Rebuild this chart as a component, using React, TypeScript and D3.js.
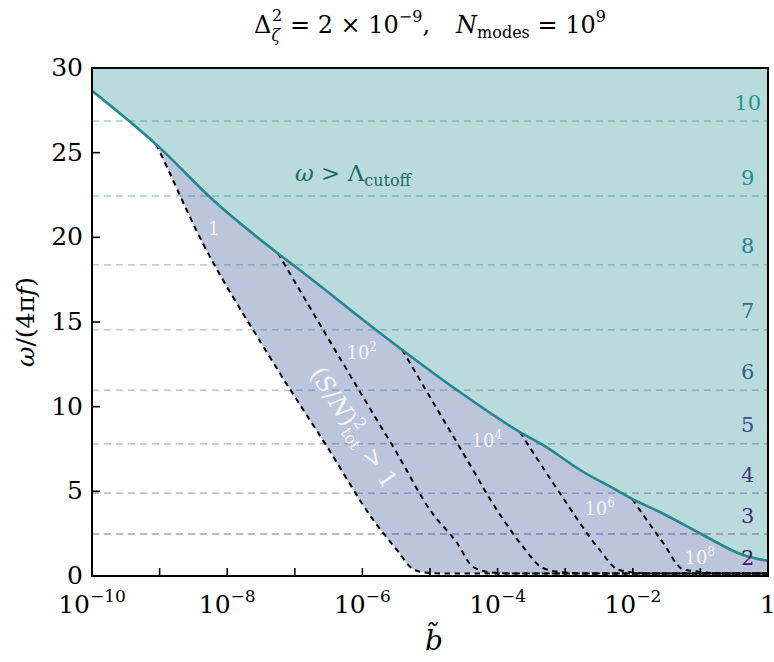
import React from "react";
import * as d3 from "d3";

// cutoff curve  omega = Lambda_cutoff(b)
const cutoffLogB = [-10, -9, -8.21, -7.25, -6.97, -5.74, -5.41, -4.6, -3.67, -3.33, -2.78, -2.19, -2.01, -1.6, -0.96, -0.37, 0];
const cutoffOmega = [28.65, 25.3, 22.2, 19.05, 18.2, 14.35, 13.35, 10.98, 8.5, 7.74, 6.26, 4.96, 4.55, 3.78, 2.42, 1.24, 0.89];

// (S/N)^2_tot contours
const contour1LogB = [-9.05, -8.85, -8.51, -7.37, -6.52, -5.84, -5.49, -5.25, -5.1, -4.85, 0];
const contour1Omega = [25.5, 23.8, 20.85, 12.93, 7.62, 3.31, 1.54, 0.4, 0.22, 0.15, 0.15];
const contour2LogB = [-7.25, -6.58, -5.99, -5.49, -5.0, -4.6, -4.36, -4.11, -3.82, 0];
const contour2Omega = [19.07, 14.53, 10.57, 7.26, 3.9, 1.95, 0.53, 0.22, 0.15, 0.15];
const contour4LogB = [-5.41, -5.0, -4.51, -4.01, -3.62, -3.33, -3.0, -2.71, 0];
const contour4Omega = [13.35, 10.57, 7.26, 3.9, 1.71, 0.47, 0.2, 0.15, 0.15];
const contour6LogB = [-3.67, -3.08, -2.49, -2.23, -2.0, -1.75, 0];
const contour6Omega = [8.5, 4.9, 1.54, 0.4, 0.22, 0.15, 0.15];
const contour8LogB = [-2.01, -1.55, -1.26, -1.01, -0.71, 0];
const contour8Omega = [4.55, 1.95, 0.4, 0.25, 0.15, 0.15];

const contourExponents = ["", "2", "4", "6", "8"];
const contourLabelLogB = [-8.2, -6.01, -4.16, -2.49, -1.01];
const contourLabelOmega = [20.55, 13.23, 8.03, 4.02, 1.12];

// harmonic levels
const harmonicN = [2, 3, 4, 5, 6, 7, 8, 9, 10];
const harmonicOmega = [0, 2.48, 4.9, 7.8, 10.98, 14.53, 18.37, 22.44, 26.87];

const yTicks = [0, 5, 10, 15, 20, 25, 30];
const xTickExps = [-10, -9, -8, -7, -6, -5, -4, -3, -2, -1, 0];
const xLabelExps = [-10, -8, -6, -4, -2, 0];

const W = 774, H = 662;
const L = 92, R = 768, T = 68, B = 576;
const FONT = "DejaVu Serif";

export default function App() {
  const x = d3.scaleLog().domain([1e-10, 1]).range([L, R]);
  const y = d3.scaleLinear().domain([0, 30]).range([B, T]);
  const px = (lb: number) => x(Math.pow(10, lb));

  const zip = (a: number[], b: number[]) => a.map((v, i) => [v, b[i]] as [number, number]);
  const cutoff = zip(cutoffLogB, cutoffOmega);
  const contours = [
    zip(contour1LogB, contour1Omega),
    zip(contour2LogB, contour2Omega),
    zip(contour4LogB, contour4Omega),
    zip(contour6LogB, contour6Omega),
    zip(contour8LogB, contour8Omega),
  ];

  const line = d3
    .line<[number, number]>()
    .x((d) => px(d[0]))
    .y((d) => y(d[1]))
    .curve(d3.curveMonotoneX);

  const tealArea = d3
    .area<[number, number]>()
    .x((d) => px(d[0]))
    .y0(y(30))
    .y1((d) => y(d[1]))
    .curve(d3.curveMonotoneX)(cutoff) as string;

  const c1 = contours[0];
  const upper = cutoff.filter((d) => d[0] > c1[0][0]);
  const upperRev = [...upper].reverse();
  const purpleD =
    (line(c1) as string) +
    "L" + px(0) + "," + y(0) +
    "L" + (line(upperRev) as string).slice(1) +
    "Z";

  const hColor = (n: number) => d3.interpolateViridis(0.05 + ((n - 2) / 8) * 0.5);
  const ff = { fontFamily: FONT };

  return (
    <svg width={W} height={H} style={{ display: "block", position: "absolute", left: 0, top: 0, fontFamily: FONT }}>
      <defs>
        <clipPath id="plotclip">
          <rect x={L} y={T} width={R - L} height={B - T} />
        </clipPath>
      </defs>
      <rect x={0} y={0} width={W} height={H} fill="white" />
      <g clipPath="url(#plotclip)">
        <path d={tealArea} fill="#badbdb" />
        <path d={purpleD} fill="#bbc5db" />
        {harmonicN.map((n, i) => (
          <line
            key={n}
            x1={L}
            x2={R}
            y1={y(harmonicOmega[i])}
            y2={y(harmonicOmega[i])}
            stroke={hColor(n)}
            strokeOpacity={0.45}
            strokeWidth={1.3}
            strokeDasharray="7,5"
          />
        ))}
        {contours.map((c, i) => (
          <path key={i} d={line(c) as string} fill="none" stroke="black" strokeWidth={2} strokeDasharray="5.5,4.5" />
        ))}
        <path d={line(cutoff) as string} fill="none" stroke="#23898a" strokeWidth={2.6} />
        {harmonicN.map((n, i) => (
          <text
            key={n}
            style={ff}
            x={px(-0.3)}
            y={y(harmonicOmega[i] + 1.15) + 8}
            textAnchor="middle"
            fontSize={21}
            fill={hColor(n)}
          >
            {n}
          </text>
        ))}
        {contourExponents.map((e, i) => (
          <text
            key={i}
            style={ff}
            x={px(contourLabelLogB[i])}
            y={y(contourLabelOmega[i]) + 7}
            textAnchor="middle"
            fontSize={18}
            fill="white"
            fillOpacity={0.85}
          >
            {e === "" ? "1" : (
              <>
                <tspan>10</tspan>
                <tspan dy={-8} fontSize={12}>{e}</tspan>
              </>
            )}
          </text>
        ))}
        <text style={ff} x={295} y={181} fontSize={23} fill="#1f6b63">
          <tspan fontStyle="italic">ω</tspan>
          <tspan> &gt; Λ</tspan>
          <tspan dy={5} fontSize={16}>cutoff</tspan>
        </text>
        <text
          style={ff}
          transform="translate(347,432) rotate(57)"
          textAnchor="middle"
          fontSize={24}
          fill="white"
          fillOpacity={0.9}
        >
          <tspan>(</tspan>
          <tspan fontStyle="italic">S</tspan>
          <tspan>/</tspan>
          <tspan fontStyle="italic">N</tspan>
          <tspan>)</tspan>
          <tspan dy={-10} fontSize={16}>2</tspan>
          <tspan dx={-9} dy={16} fontSize={16}>tot</tspan>
          <tspan dy={-6}> &gt; 1</tspan>
        </text>
      </g>
      <rect x={L} y={T} width={R - L} height={B - T} fill="none" stroke="black" strokeWidth={2} />
      {yTicks.map((t) => (
        <g key={t}>
          <line x1={L} x2={L + 8} y1={y(t)} y2={y(t)} stroke="black" strokeWidth={1.6} />
          <text style={ff} x={L - 9} y={y(t) + 8} textAnchor="end" fontSize={25}>
            {t}
          </text>
        </g>
      ))}
      {xTickExps.map((e) => (
        <line key={e} x1={px(e)} x2={px(e)} y1={B} y2={B - 8} stroke="black" strokeWidth={1.6} />
      ))}
      {xLabelExps.map((e) => (
        <text key={e} style={ff} x={px(e)} y={613} textAnchor="middle" fontSize={25}>
          {e === 0 ? (
            "1"
          ) : (
            <>
              <tspan>10</tspan>
              <tspan dy={-11} fontSize={17}>{"−" + Math.abs(e)}</tspan>
            </>
          )}
        </text>
      ))}
      <text style={ff} x={434} y={650} textAnchor="middle" fontSize={28} fontStyle="italic">
        {"b\u0303"}
      </text>
      <text style={ff} transform="translate(34,322) rotate(-90)" textAnchor="middle" fontSize={25}>
        <tspan fontStyle="italic">ω</tspan>
        <tspan>/(4π</tspan>
        <tspan fontStyle="italic">f</tspan>
        <tspan>)</tspan>
      </text>
      <text style={ff} x={430} y={33} textAnchor="middle" fontSize={24}>
        <tspan>Δ</tspan>
        <tspan dy={8} fontSize={16} fontStyle="italic">ζ</tspan>
        <tspan dx={-8} dy={-20} fontSize={16}>2</tspan>
        <tspan dy={12}> = 2 × 10</tspan>
        <tspan dy={-11} fontSize={16}>−9</tspan>
        <tspan dy={11}>,</tspan>
        <tspan dx={26} fontStyle="italic">N</tspan>
        <tspan dy={5} fontSize={16}>modes</tspan>
        <tspan dy={-5}> = 10</tspan>
        <tspan dy={-11} fontSize={16}>9</tspan>
      </text>
    </svg>
  );
}
